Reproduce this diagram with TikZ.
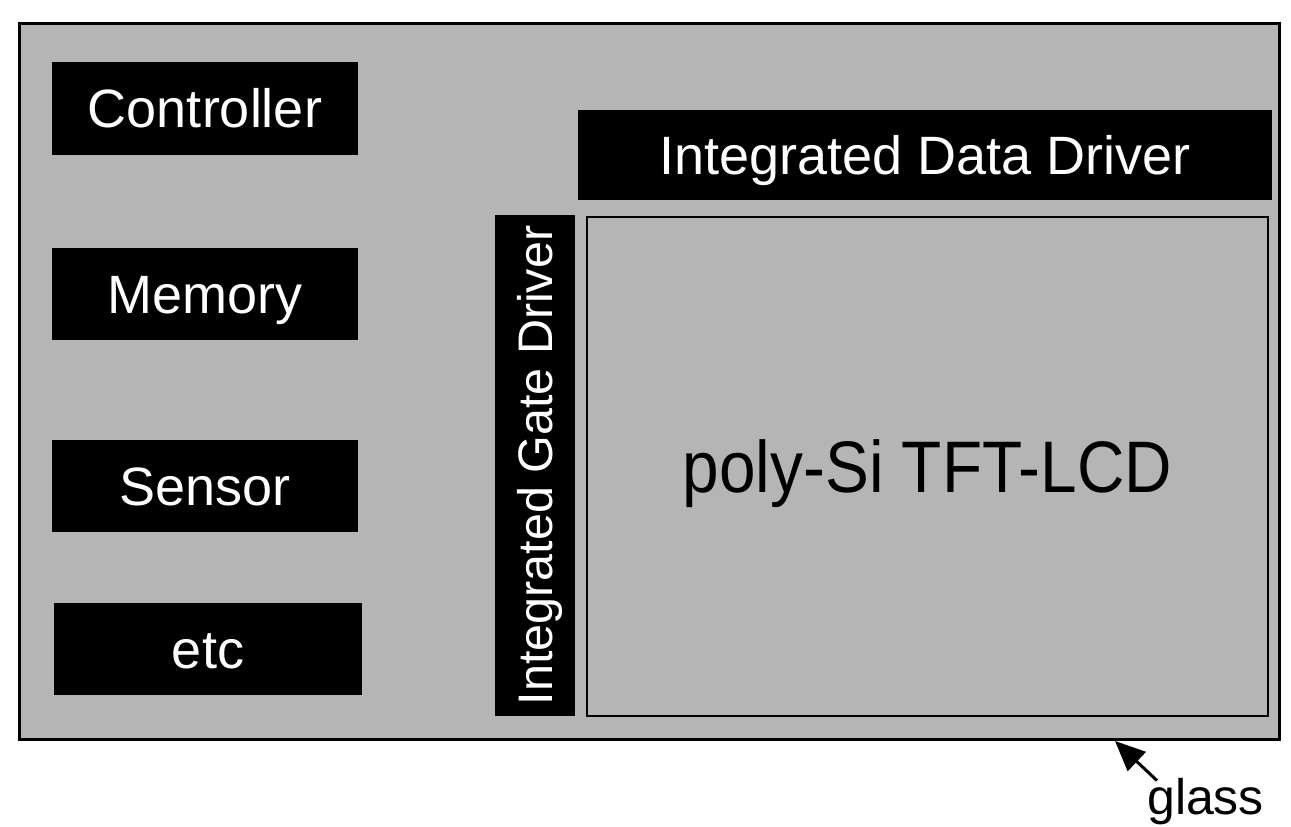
\documentclass[tikz,border=0pt]{standalone}
\usepackage{fontspec}
\setmainfont{Liberation Sans}
\newfontfamily\condsans[FakeStretch=0.9]{Liberation Sans}
\usetikzlibrary{arrows.meta}
\begin{document}
\begin{tikzpicture}[x=1pt,y=-1pt,
  blk/.style={fill=black,text=white,inner sep=0pt,font=\fontsize{54}{54}\selectfont,text height=38.7pt,text depth=0pt},
  panel/.style={draw=black,inner sep=0pt},
  arr/.style={line width=3pt,-{Triangle[length=30pt,width=26pt]}}
 ]
\useasboundingbox (0,0) rectangle (1291,827);
\fill[white] (0,0) rectangle (1291,827);
% glass substrate
\node[panel,line width=3pt,fill=black!29,minimum width=1260pt,minimum height=716pt] (glass) at (649,381) {};
% left blocks
\node[blk,minimum width=306pt,minimum height=93pt] (ctrl) at (205,108.5) {Controller};
\node[blk,minimum width=306pt,minimum height=92pt] (mem) at (205,294) {Memory};
\node[blk,minimum width=306pt,minimum height=92pt] (sens) at (205,486) {Sensor};
\node[blk,minimum width=308pt,minimum height=92pt] (etc) at (208,649) {etc};
% drivers
\node[blk,minimum width=694pt,minimum height=90pt] (data) at (925,155) {Integrated Data Driver};
\node[blk,rotate=90,font=\fontsize{48.5}{48.5}\selectfont,text height=34.8pt,minimum width=501pt,minimum height=80pt] (gate) at (535,465.5) {Integrated Gate Driver};
% display area
\node[panel,line width=1.5pt,minimum width=681pt,minimum height=499pt,font=\condsans\fontsize{73}{73}\selectfont,text height=52.3pt,text depth=0pt] (lcd) at (927.5,466.5) {poly-Si TFT-LCD};
% glass label
\node[anchor=base west,inner sep=0pt,font=\fontsize{50}{50}\selectfont] (lbl) at (1147,814) {glass};
\coordinate (tip) at (1115,741);
\draw[arr] ([xshift=10pt,yshift=-3pt]lbl.north west) -- (tip);
\end{tikzpicture}
\end{document}
